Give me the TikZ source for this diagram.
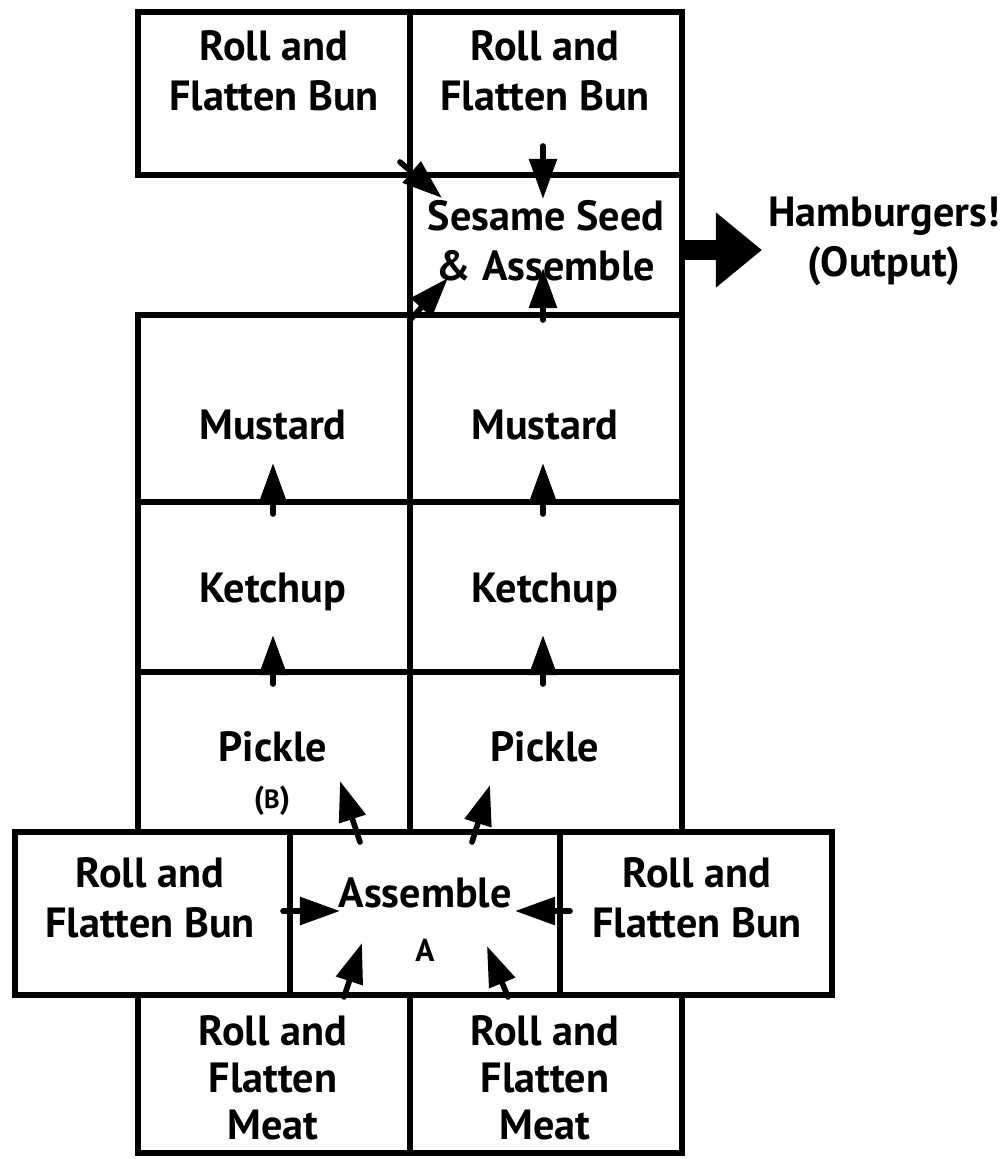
\documentclass[tikz,border=0pt]{standalone}
\usepackage{fontspec}
\setmainfont{PT Sans}
\usetikzlibrary{arrows.meta}
\begin{document}
\begin{tikzpicture}[x=0.01cm,y=-0.01cm,
  box/.style={draw,line width=1.7pt,inner sep=0pt,outer sep=0pt},
  lbl/.style={font=\fontsize{12}{14.2}\selectfont\bfseries,align=center,inner sep=0pt},
  small/.style={font=\fontsize{9}{10}\selectfont\bfseries},
  flow/.style={line width=1.6pt,line cap=round,-{Triangle[length=4mm,width=2.7mm]}},
  big/.style={line width=0.2cm,-{Triangle[length=4.6mm,width=7.2mm]}}]
\useasboundingbox (0,0) rectangle (1001,1159);
% boxes
\node[box,minimum width=2.72cm,minimum height=1.63cm] (tl) at (274,93.5) {};
\node[box,minimum width=2.72cm,minimum height=1.63cm] (tr) at (546,93.5) {};
\node[box,minimum width=2.72cm,minimum height=1.40cm] (ss) at (546,245) {};
\node[box,minimum width=2.72cm,minimum height=1.87cm] (ml) at (274,408.5) {};
\node[box,minimum width=2.72cm,minimum height=1.87cm] (mr) at (546,408.5) {};
\node[box,minimum width=2.72cm,minimum height=1.70cm] (kl) at (274,587) {};
\node[box,minimum width=2.72cm,minimum height=1.70cm] (kr) at (546,587) {};
\node[box,minimum width=2.72cm,minimum height=1.60cm] (pl) at (274,752) {};
\node[box,minimum width=2.72cm,minimum height=1.60cm] (pr) at (546,752) {};
\node[box,minimum width=2.75cm,minimum height=1.63cm] (bl) at (152.5,913.5) {};
\node[box,minimum width=2.70cm,minimum height=1.63cm] (as) at (425,913.5) {};
\node[box,minimum width=2.72cm,minimum height=1.63cm] (br) at (696,913.5) {};
\node[box,minimum width=2.72cm,minimum height=1.58cm] (fl) at (274,1074) {};
\node[box,minimum width=2.72cm,minimum height=1.58cm] (fr) at (546,1074) {};
% labels
\node[lbl] (tlt) at (274,71) {Roll and\\Flatten Bun};
\node[lbl] (trt) at (545,71) {Roll and\\Flatten Bun};
\node[lbl] (sst) at (546,241) {Sesame Seed\\\& Assemble};
\node[lbl] (out) at (884,241) {Hamburgers!\\(Output)};
\node[lbl] (mlt) at (273,425) {Mustard};
\node[lbl] (mrt) at (545,425) {Mustard};
\node[lbl] (klt) at (273,592) {Ketchup};
\node[lbl] (krt) at (545,592) {Ketchup};
\node[lbl] (plt) at (273,747) {Pickle};
\node[lbl] (prt) at (545,747) {Pickle};
\node[lbl,small] (bt) at (272,801) {({\fontsize{7.5}{9}\selectfont B})};
\node[lbl] (ast) at (425,893) {Assemble};
\node[lbl,small] (at) at (425,950) {A};
\node[lbl] (blt) at (150,898) {Roll and\\Flatten Bun};
\node[lbl] (brt) at (697,898) {Roll and\\Flatten Bun};
\node[lbl,font=\fontsize{12}{13.3}\selectfont\bfseries] (flt) at (273,1078) {Roll and\\Flatten\\Meat};
\node[lbl,font=\fontsize{12}{13.3}\selectfont\bfseries] (frt) at (545,1078) {Roll and\\Flatten\\Meat};
% arrow end points
\coordinate (a1s) at (400,162); \coordinate (a1e) at (442,198);
\coordinate (a2s) at (543,146); \coordinate (a2e) at (543,199);
\coordinate (a3s) at (410,320); \coordinate (a3e) at (448,278);
\coordinate (a4s) at (543,320); \coordinate (a4e) at (543,268);
\coordinate (a5s) at (273,514); \coordinate (a5e) at (273,463);
\coordinate (a6s) at (543,514); \coordinate (a6e) at (543,463);
\coordinate (a7s) at (273,684); \coordinate (a7e) at (273,635);
\coordinate (a8s) at (543,684); \coordinate (a8e) at (543,635);
\coordinate (a9s) at (360,842); \coordinate (a9e) at (340,781);
\coordinate (a10s) at (472,842); \coordinate (a10e) at (490,785);
\coordinate (a11s) at (283,911); \coordinate (a11e) at (340,911);
\coordinate (a12s) at (570,911); \coordinate (a12e) at (515,911);
\coordinate (a13s) at (344,997); \coordinate (a13e) at (362,943);
\coordinate (a14s) at (508,997); \coordinate (a14e) at (487,946);
\coordinate (o1) at (682,250); \coordinate (o2) at (762,250);
\draw[flow] (a1s) -- (a1e);
\draw[flow] (a2s) -- (a2e);
\draw[flow] (a3s) -- (a3e);
\draw[flow] (a4s) -- (a4e);
\draw[flow] (a5s) -- (a5e);
\draw[flow] (a6s) -- (a6e);
\draw[flow] (a7s) -- (a7e);
\draw[flow] (a8s) -- (a8e);
\draw[flow] (a9s) -- (a9e);
\draw[flow] (a10s) -- (a10e);
\draw[flow] (a11s) -- (a11e);
\draw[flow] (a12s) -- (a12e);
\draw[flow] (a13s) -- (a13e);
\draw[flow] (a14s) -- (a14e);
\draw[big] (o1) -- (o2);
\end{tikzpicture}
\end{document}
